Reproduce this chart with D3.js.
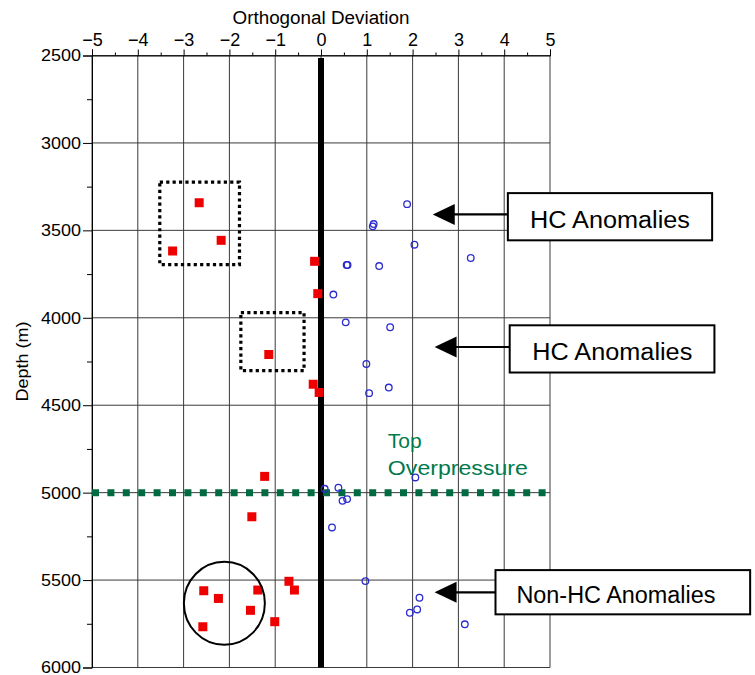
<!DOCTYPE html>
<html><head><meta charset="utf-8">
<script src="https://cdn.jsdelivr.net/npm/d3@7"></script>
<style>body{margin:0;background:#fff}svg{display:block;font-family:"Liberation Sans",Arial,Helvetica,sans-serif}</style>
</head><body><svg id="c" width="755" height="675"></svg>
<script>
// ---- data ----
const xTicks = [-5,-4,-3,-2,-1,0,1,2,3,4,5];
const yTicks = [2500,3000,3500,4000,4500,5000,5500,6000];
const redX     = [-2.66,-2.18,-3.24,-0.14,-0.07,-1.14,-0.17,-0.04,-1.23,-1.51,-2.56,-2.24,-1.38,-1.54,-2.58,-0.70,-0.58,-1.01];
const redDepth = [3342,3557,3618,3677,3862,4210,4380,4427,4907,5138,5561,5605,5557,5673,5767,5507,5557,5738];
const blueX     = [1.88,1.15,1.13,2.04,3.27,0.56,0.58,1.27,0.27,0.54,1.51,0.99,1.48,1.05,0.08,0.38,0.47,0.57,0.24,2.06,0.97,2.15,2.10,1.94,3.14];
const blueDepth = [3350,3464,3477,3582,3658,3698,3698,3704,3867,4026,4054,4264,4399,4431,4978,4972,5047,5037,5199,4913,5506,5601,5668,5687,5753];
const overpressureDepth = 5000;
// annotation boxes (data units)
const dottedBoxes = [{x0:-3.52,x1:-1.78,d0:3224,d1:3696},{x0:-1.75,x1:-0.37,d0:3970,d1:4302}];
const ring = {x:-2.11, d:5633};
const callouts = [
  {label:"HC Anomalies", tipX:2.44, tipD:3409, x0:4.08, x1:8.54, d0:3287, d1:3557, textX:6.31, textD:3489, w:160},
  {label:"HC Anomalies", tipX:2.48, tipD:4167, x0:4.12, x1:8.59, d0:4043, d1:4313, textX:6.36, textD:4243, w:160},
  {label:"Non-HC Anomalies", tipX:2.48, tipD:5570, x0:3.81, x1:9.37, d0:5443, d1:5696, textX:6.44, textD:5631, w:199}
];

const svg = d3.select("#c");
const x = d3.scaleLinear().domain([-5,5]).range([92,550]);
const y = d3.scaleLinear().domain([2500,6000]).range([55.5,667.5]);

// grid
const g = svg.append("g");
g.selectAll(".vg").data(xTicks).join("line")
  .attr("x1",d=>x(d)).attr("x2",d=>x(d)).attr("y1",y(2500)).attr("y2",y(6000))
  .attr("stroke","#3a3a3a").attr("stroke-width",1);
g.selectAll(".hg").data(yTicks).join("line")
  .attr("x1",x(-5)).attr("x2",x(5)).attr("y1",d=>y(d)).attr("y2",d=>y(d))
  .attr("stroke","#3a3a3a").attr("stroke-width",1);

// axes
const xAxis = d3.axisTop(x).tickValues(xTicks).tickSize(6).tickPadding(4).tickFormat(d3.format("d"));
const xa = svg.append("g").attr("transform",`translate(0,${y(2500)})`).call(xAxis);
xa.select(".domain").attr("stroke","#000");
xa.selectAll("text").attr("font-size",18).attr("fill","#000").attr("font-family","Liberation Sans, Arial, sans-serif");
const xMinor = svg.append("g").attr("transform",`translate(0,${y(2500)})`)
  .call(d3.axisTop(x).tickValues(d3.range(-4.5,5,1)).tickSize(3).tickFormat(""));
xMinor.select(".domain").remove();

const yAxis = d3.axisLeft(y).tickValues(yTicks).tickSize(9).tickPadding(2).tickFormat(d3.format("d"));
const ya = svg.append("g").attr("transform",`translate(${x(-5)},0)`).call(yAxis);
ya.select(".domain").attr("stroke","#000");
ya.selectAll("text").attr("font-size",17).attr("fill","#000").attr("font-family","Liberation Sans, Arial, sans-serif")
  .attr("textLength",40).attr("lengthAdjust","spacingAndGlyphs");
const yMinor = svg.append("g").attr("transform",`translate(${x(-5)},0)`)
  .call(d3.axisLeft(y).tickValues(d3.range(2750,6000,500)).tickSize(5).tickFormat(""));
yMinor.select(".domain").remove();

svg.append("text").attr("x",x(0)).attr("y",24).attr("text-anchor","middle")
  .attr("font-size",18).attr("textLength",177).attr("lengthAdjust","spacingAndGlyphs").text("Orthogonal Deviation");
svg.append("text").attr("transform",`translate(28,${y(4250)}) rotate(-90)`).attr("text-anchor","middle")
  .attr("font-size",17).attr("textLength",80).attr("lengthAdjust","spacingAndGlyphs").text("Depth (m)");

// zero line
svg.append("line").attr("x1",x(0)).attr("x2",x(0)).attr("y1",y(2515)).attr("y2",y(6000))
  .attr("stroke","#000").attr("stroke-width",6);

// overpressure line
svg.append("line").attr("x1",x(-5)).attr("x2",x(5)+2).attr("y1",y(overpressureDepth)).attr("y2",y(overpressureDepth))
  .attr("stroke","#006b42").attr("stroke-width",7).attr("stroke-dasharray","7,8.4");
svg.append("text").attr("x",x(1.46)).attr("y",y(4746)).attr("font-size",21).attr("fill","#007a4d").text("Top");
svg.append("text").attr("x",x(1.46)).attr("y",y(4900)).attr("font-size",21).attr("fill","#007a4d")
  .attr("textLength",140).attr("lengthAdjust","spacingAndGlyphs").text("Overpressure");

// red squares
const sq = 9;
svg.selectAll(".red").data(redX.map((v,i)=>[v,redDepth[i]])).join("rect")
  .attr("x",d=>x(d[0])-sq/2).attr("y",d=>y(d[1])-sq/2).attr("width",sq).attr("height",sq).attr("fill","#ee0000");
// blue circles
svg.selectAll(".blue").data(blueX.map((v,i)=>[v,blueDepth[i]])).join("circle")
  .attr("cx",d=>x(d[0])).attr("cy",d=>y(d[1])).attr("r",3.3)
  .attr("fill","none").attr("stroke","#2b2bd0").attr("stroke-width",1.3);

// dotted boxes
svg.selectAll(".db").data(dottedBoxes).join("rect")
  .attr("x",d=>x(d.x0)).attr("y",d=>y(d.d0)).attr("width",d=>x(d.x1)-x(d.x0)).attr("height",d=>y(d.d1)-y(d.d0))
  .attr("fill","none").attr("stroke","#000").attr("stroke-width",3.2).attr("stroke-dasharray","3.2,3.2");
// ring
svg.append("ellipse").attr("cx",x(ring.x)).attr("cy",y(ring.d)).attr("rx",40.5).attr("ry",41.5)
  .attr("fill","none").attr("stroke","#000").attr("stroke-width",2);

// callouts
const cg = svg.selectAll(".co").data(callouts).join("g");
cg.append("line").attr("x1",d=>x(d.tipX)+20).attr("x2",d=>x(d.x0)).attr("y1",d=>y(d.tipD)).attr("y2",d=>y(d.tipD))
  .attr("stroke","#000").attr("stroke-width",2.2);
cg.append("path").attr("d",d=>{const tx=x(d.tipX),ty=y(d.tipD);return `M${tx},${ty}L${tx+22},${ty-10.5}L${tx+22},${ty+10.5}Z`;}).attr("fill","#000");
cg.append("rect").attr("x",d=>x(d.x0)).attr("y",d=>y(d.d0)).attr("width",d=>x(d.x1)-x(d.x0)).attr("height",d=>y(d.d1)-y(d.d0))
  .attr("fill","#fff").attr("stroke","#000").attr("stroke-width",2);
cg.append("text").attr("x",d=>x(d.textX)).attr("y",d=>y(d.textD)).attr("text-anchor","middle")
  .attr("font-size",23).attr("fill","#000").attr("textLength",d=>d.w).attr("lengthAdjust","spacingAndGlyphs").text(d=>d.label);
</script></body></html>
